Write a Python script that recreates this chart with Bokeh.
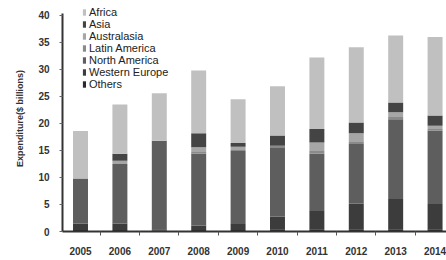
from bokeh.plotting import figure
from bokeh.models import ColumnDataSource, Range1d, FixedTicker, Legend, LegendItem
from bokeh.embed import file_html
from bokeh.resources import INLINE

years = [2005, 2006, 2007, 2008, 2009, 2010, 2011, 2012, 2013, 2014]
year_labels = ["2005", "2006", "2007", "2008", "2009", "2010", "2011", "2012", "2013", "2014"]

# stacked bottom -> top
others         = [0.3, 0.3, 0.2, 0.3, 0.3, 0.4, 0.4, 0.4, 0.4, 0.4]
western_europe = [1.2, 1.2, 0.2, 0.8, 1.1, 2.4, 3.4, 4.8, 5.6, 4.7]
north_america  = [8.3, 11.0, 16.4, 13.3, 13.5, 12.8, 10.6, 11.0, 14.8, 13.6]
latin_america  = [0.0, 0.0, 0.0, 0.3, 0.2, 0.3, 0.5, 0.5, 0.4, 0.3]
australasia    = [0.0, 0.6, 0.0, 0.9, 0.6, 0.0, 1.6, 1.5, 0.9, 0.6]
asia           = [0.0, 1.3, 0.0, 2.6, 0.7, 1.9, 2.5, 2.0, 1.8, 1.9]
africa         = [8.8, 9.1, 8.8, 11.6, 8.1, 9.1, 13.2, 13.9, 12.4, 14.5]

series_names = ["Others", "Western Europe", "North America", "Latin America",
                "Australasia", "Asia", "Africa"]
series_vals = [others, western_europe, north_america, latin_america,
               australasia, asia, africa]
colors = ["#2a2a2a", "#3c3c3c", "#5e5e5e", "#8a8a8a", "#a6a6a6", "#444444", "#c0c0c0"]

y_ticks = [0, 5, 10, 15, 20, 25, 30, 35, 40]

data = {"year": years}
for n, v in zip(series_names, series_vals):
    data[n] = v
source = ColumnDataSource(data)

p = figure(width=446, height=260, output_backend="svg", toolbar_location=None,
           x_range=Range1d(2004.543, 2014.29), y_range=Range1d(0, 41.85),
           min_border_left=62, min_border_right=0, min_border_top=5, min_border_bottom=29)
p.outline_line_color = None
p.grid.grid_line_color = None
p.background_fill_color = "white"

renderers = p.vbar_stack(series_names, x="year", width=0.38, color=colors,
                         line_color=None, source=source)

items = [LegendItem(label=n, renderers=[r]) for n, r in zip(series_names, renderers)]
items.reverse()
legend = Legend(items=items, location=(20, 141), orientation="vertical",
                padding=0, margin=0, spacing=0, border_line_color=None,
                background_fill_alpha=0, glyph_width=4, glyph_height=8,
                label_height=11, label_standoff=3,
                label_text_font="Liberation Sans", label_text_font_size="11px",
                label_text_color="#222222")
p.add_layout(legend, "center")

xa = p.xaxis[0]
xa.ticker = FixedTicker(ticks=years, minor_ticks=[y + 0.5 for y in years[:-1]] + [years[0] - 0.5])
xa.major_label_overrides = {y: l for y, l in zip(years, year_labels)}
xa.major_tick_line_color = None
xa.minor_tick_out = 4
xa.minor_tick_in = 0
xa.minor_tick_line_color = "#555555"
xa.axis_line_color = "#333333"
xa.axis_line_width = 2
xa.major_label_standoff = 9
xa.major_label_text_font = "Liberation Sans"
xa.major_label_text_font_style = "bold"
xa.major_label_text_font_size = "10px"
xa.major_label_text_color = "#333333"

ya = p.yaxis[0]
ya.ticker = FixedTicker(ticks=y_ticks, minor_ticks=[])
ya.bounds = (0, 40.4)
ya.major_tick_out = 3
ya.major_tick_in = 0
ya.major_tick_line_color = "#666666"
ya.axis_line_color = "#333333"
ya.axis_line_width = 2
ya.major_label_standoff = 10
ya.major_label_text_font = "Liberation Sans"
ya.major_label_text_font_style = "bold"
ya.major_label_text_font_size = "10px"
ya.major_label_text_color = "#333333"
ya.axis_label = "Expenditure($ billions)"
ya.axis_label_text_font = "Liberation Sans"
ya.axis_label_text_font_style = "bold"
ya.axis_label_text_font_size = "9px"
ya.axis_label_text_color = "#333333"
ya.axis_label_standoff = 10

open("out.html", "w").write(file_html(p, INLINE))
